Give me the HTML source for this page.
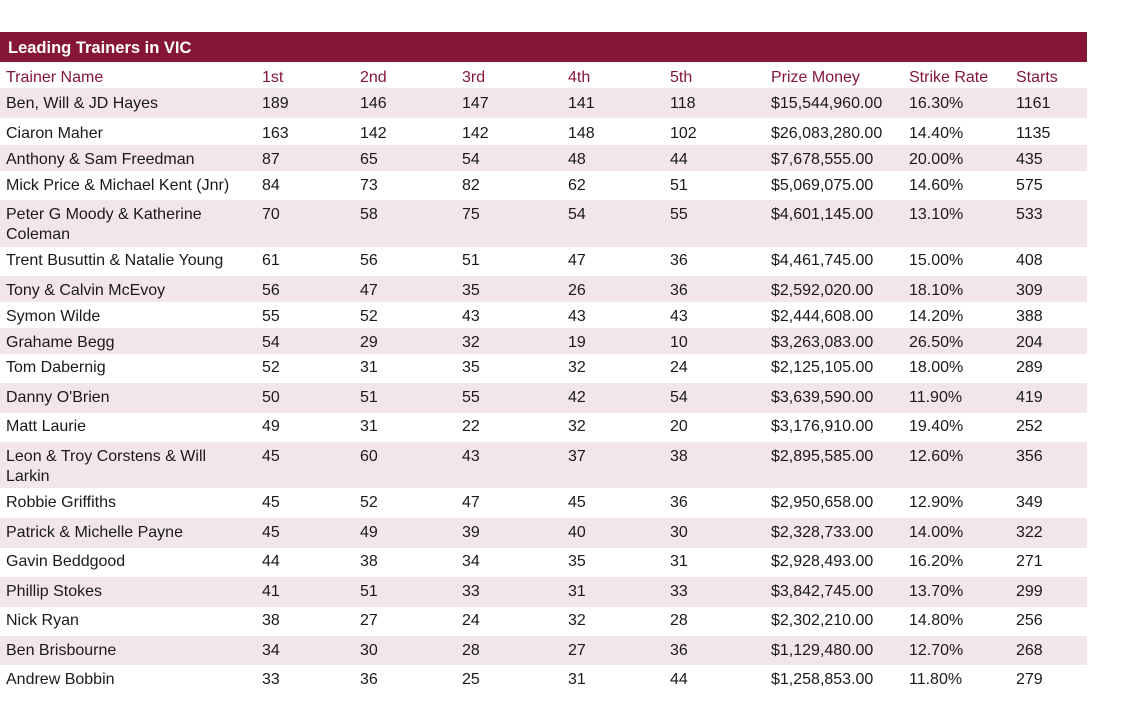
<!DOCTYPE html>
<html><head><meta charset="utf-8"><style>
body{margin:0;width:1131px;height:704px;background:#fff;position:relative;overflow:hidden;font-family:"Liberation Sans",sans-serif;}
.bar{position:absolute;left:0;width:1087px;background:#861636;}
.sh{position:absolute;left:0;width:1087px;background:#f2e6ea;}
.t{position:absolute;font-size:16px;line-height:20px;color:#1a1a1a;white-space:nowrap;}
.h{color:#861636;}
</style></head><body>
<div class="bar" style="top:32px;height:30px"></div>
<div class="t" style="left:8px;top:38px;color:#fff;font-weight:bold;font-size:16.5px">Leading Trainers in VIC</div>
<div class="sh" style="top:88px;height:30px"></div>
<div class="sh" style="top:145px;height:26px"></div>
<div class="sh" style="top:200px;height:47px"></div>
<div class="sh" style="top:276px;height:26px"></div>
<div class="sh" style="top:328px;height:26px"></div>
<div class="sh" style="top:383px;height:30px"></div>
<div class="sh" style="top:442px;height:46px"></div>
<div class="sh" style="top:518px;height:30px"></div>
<div class="sh" style="top:577px;height:30px"></div>
<div class="sh" style="top:636px;height:29px"></div>
<div id="c"></div>
<script>
var xs=[6,262,360,462,568,670,771,909,1016];
var hdr=["Trainer Name","1st","2nd","3rd","4th","5th","Prize Money","Strike Rate","Starts"];
var rows=[
[103,"Ben, Will &amp; JD Hayes","189","146","147","141","118","$15,544,960.00","16.30%","1161"],
[133,"Ciaron Maher","163","142","142","148","102","$26,083,280.00","14.40%","1135"],
[159,"Anthony &amp; Sam Freedman","87","65","54","48","44","$7,678,555.00","20.00%","435"],
[185,"Mick Price &amp; Michael Kent (Jnr)","84","73","82","62","51","$5,069,075.00","14.60%","575"],
[214,"Peter G Moody &amp; Katherine<br>Coleman","70","58","75","54","55","$4,601,145.00","13.10%","533"],
[260,"Trent Busuttin &amp; Natalie Young","61","56","51","47","36","$4,461,745.00","15.00%","408"],
[290,"Tony &amp; Calvin McEvoy","56","47","35","26","36","$2,592,020.00","18.10%","309"],
[316,"Symon Wilde","55","52","43","43","43","$2,444,608.00","14.20%","388"],
[342,"Grahame Begg","54","29","32","19","10","$3,263,083.00","26.50%","204"],
[367,"Tom Dabernig","52","31","35","32","24","$2,125,105.00","18.00%","289"],
[397,"Danny O'Brien","50","51","55","42","54","$3,639,590.00","11.90%","419"],
[426,"Matt Laurie","49","31","22","32","20","$3,176,910.00","19.40%","252"],
[456,"Leon &amp; Troy Corstens &amp; Will<br>Larkin","45","60","43","37","38","$2,895,585.00","12.60%","356"],
[502,"Robbie Griffiths","45","52","47","45","36","$2,950,658.00","12.90%","349"],
[532,"Patrick &amp; Michelle Payne","45","49","39","40","30","$2,328,733.00","14.00%","322"],
[561,"Gavin Beddgood","44","38","34","35","31","$2,928,493.00","16.20%","271"],
[591,"Phillip Stokes","41","51","33","31","33","$3,842,745.00","13.70%","299"],
[620,"Nick Ryan","38","27","24","32","28","$2,302,210.00","14.80%","256"],
[650,"Ben Brisbourne","34","30","28","27","36","$1,129,480.00","12.70%","268"],
[679,"Andrew Bobbin","33","36","25","31","44","$1,258,853.00","11.80%","279"]];
var h="";
for(var i=0;i<9;i++)h+='<div class="t h" style="left:'+xs[i]+'px;top:68px">'+hdr[i]+'</div>';
rows.forEach(function(r){for(var i=0;i<9;i++)h+='<div class="t" style="left:'+xs[i]+'px;top:'+(r[0]-9)+'px">'+r[i+1]+'</div>';});
document.getElementById("c").innerHTML=h;
</script>
</body></html>
